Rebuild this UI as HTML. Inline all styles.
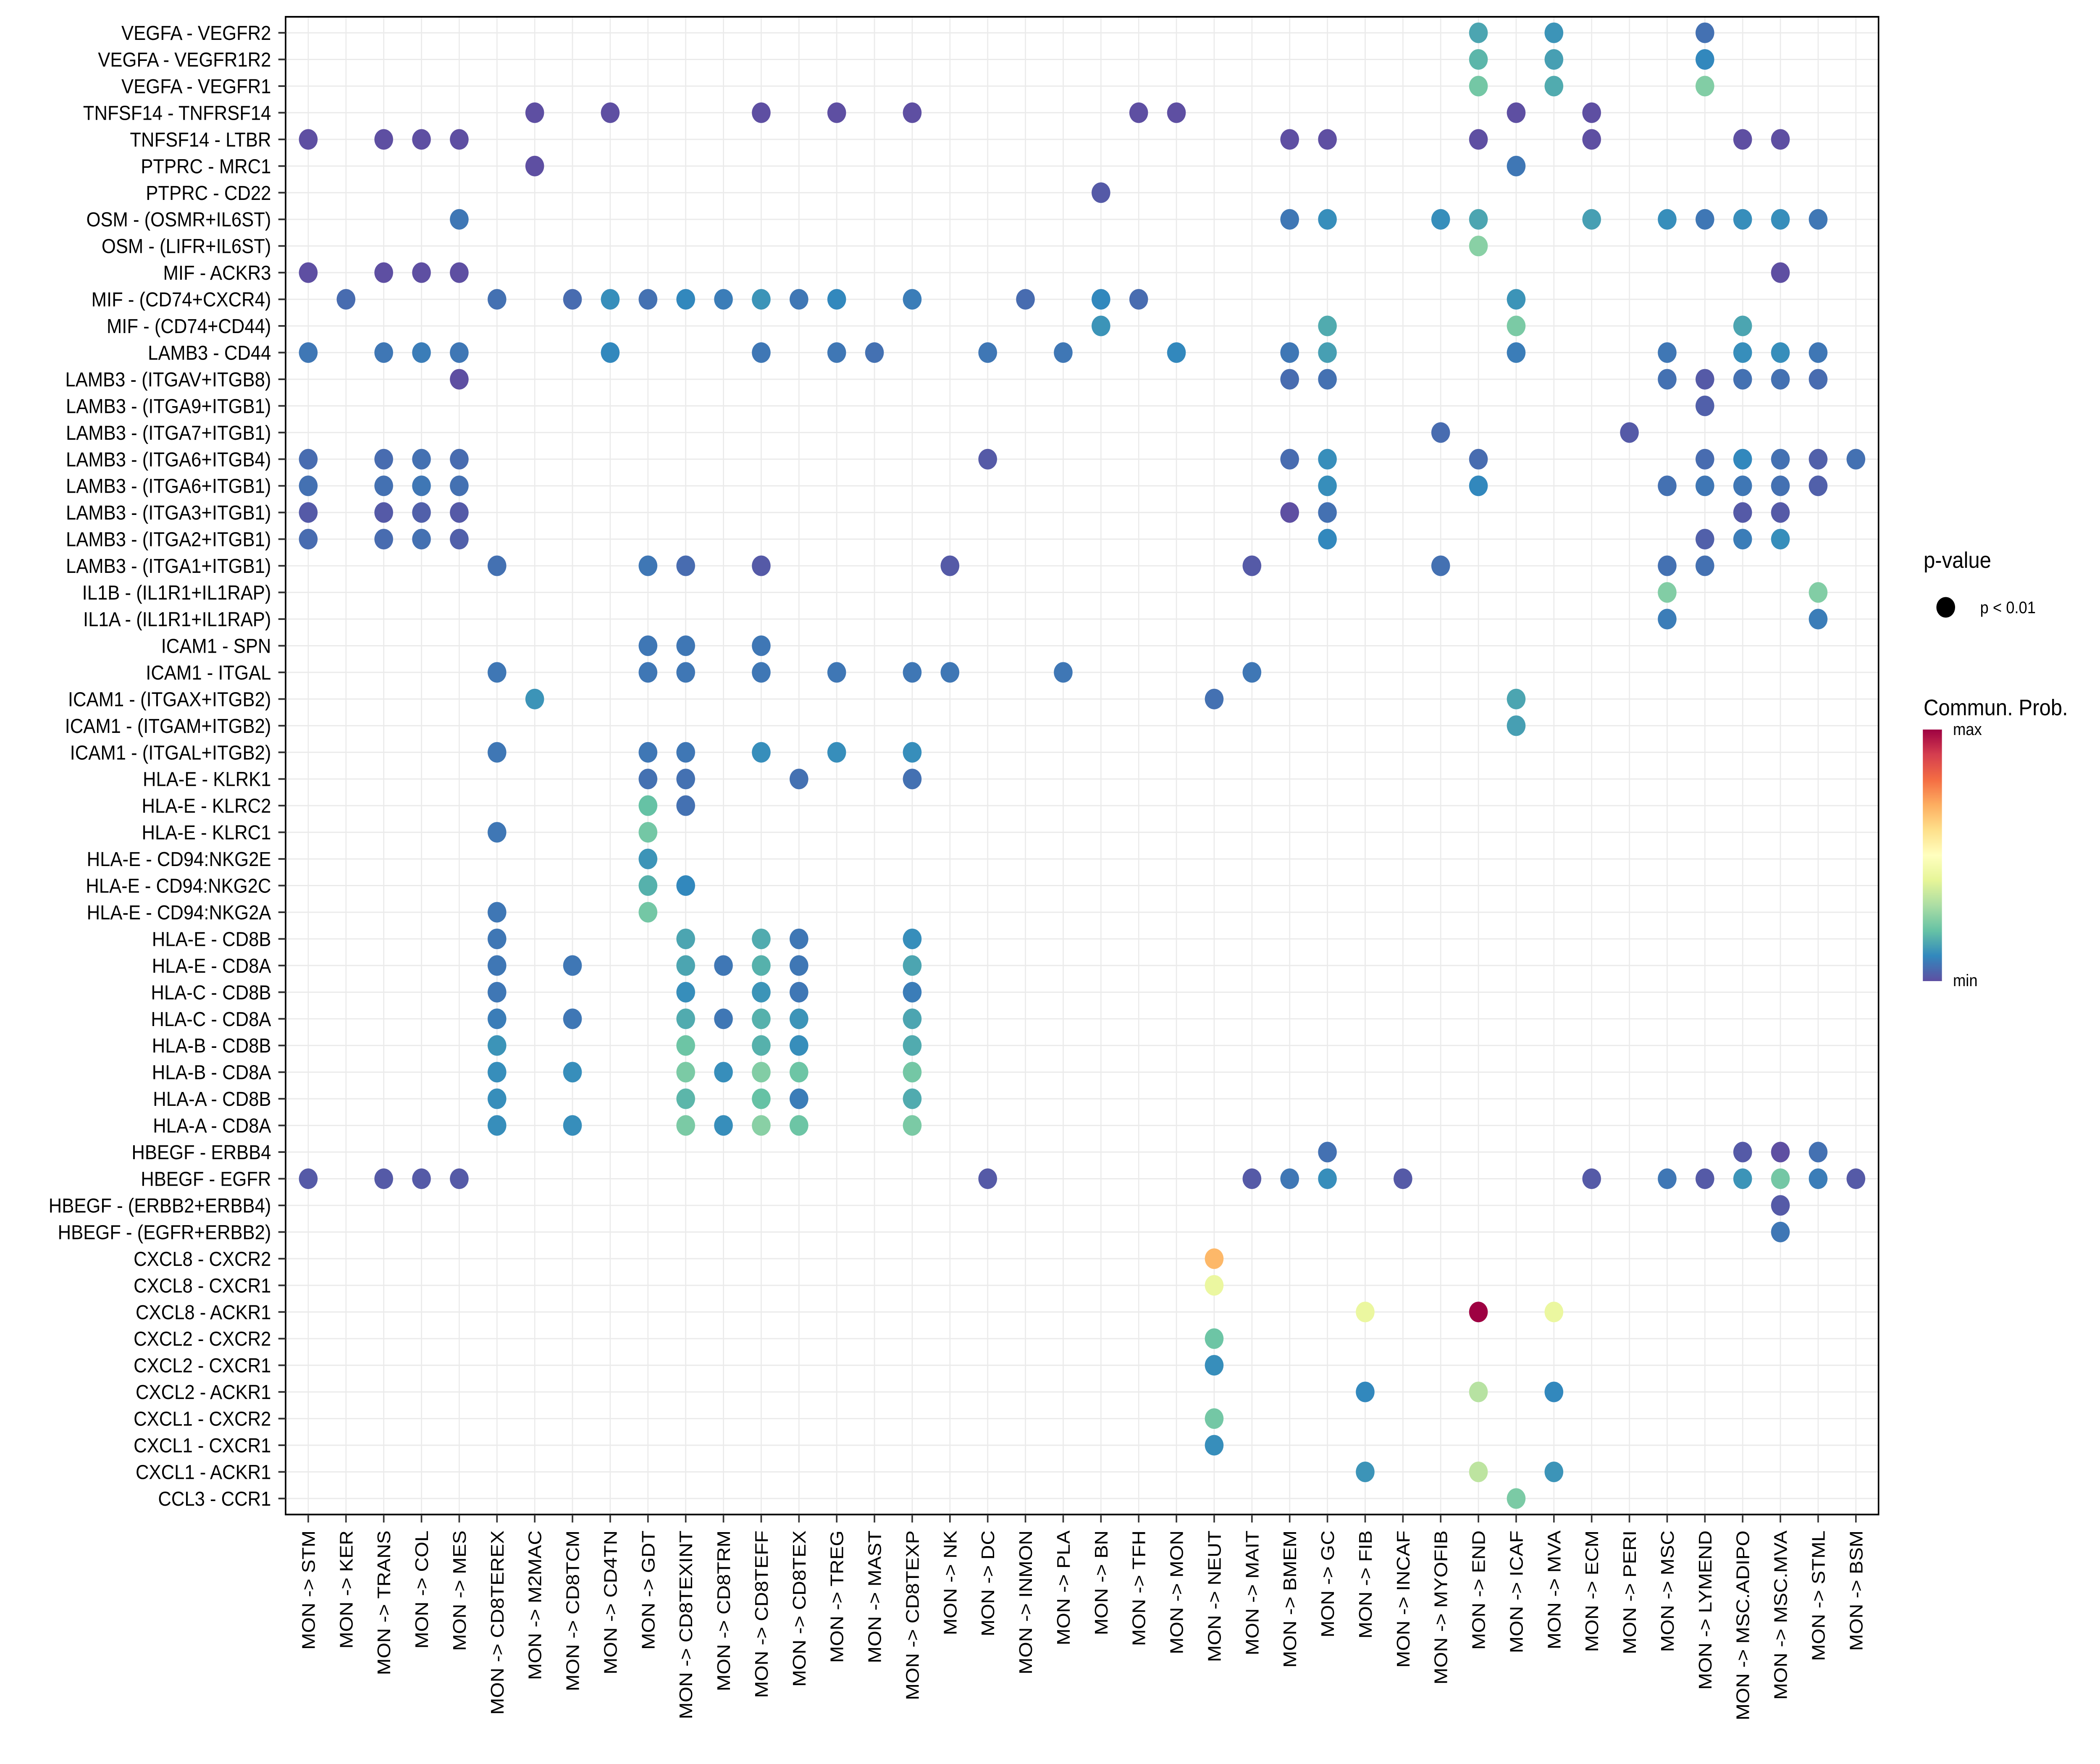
<!DOCTYPE html>
<html><head><meta charset="utf-8"><style>
html,body{margin:0;padding:0;background:#fff;width:100%;height:100%;overflow:hidden;}
#chart{display:block;position:fixed;left:0;top:0;width:100vw;height:100vh;}
svg text{font-family:"Liberation Sans",Arial,sans-serif;fill:#000;}
</style></head><body>
<svg id="chart" xmlns="http://www.w3.org/2000/svg" viewBox="0 0 5500 4200" preserveAspectRatio="none">
<rect x="0" y="0" width="5500" height="4200" fill="#fff"/>
<g id="grid"></g>
<g id="dots"></g>
<rect x="748" y="40" width="4172" height="3566" fill="none" stroke="#000" stroke-width="4"/>
<g id="yaxis"></g>
<g id="xaxis"></g>
<g>
<text x="5038" y="1352" font-size="54">p-value</text>
<circle cx="5096" cy="1446" r="24.5" fill="#000"/>
<text x="5186" y="1460" font-size="40">p &lt; 0.01</text>
</g>
<g>
<defs><linearGradient id="spec" x1="0" y1="1" x2="0" y2="0">
<stop offset="0" stop-color="#5E4FA2"/><stop offset="0.1" stop-color="#3288BD"/><stop offset="0.2" stop-color="#66C2A5"/><stop offset="0.3" stop-color="#ABDDA4"/><stop offset="0.4" stop-color="#E6F598"/><stop offset="0.5" stop-color="#FFFFBF"/><stop offset="0.6" stop-color="#FEE08B"/><stop offset="0.7" stop-color="#FDAE61"/><stop offset="0.8" stop-color="#F46D43"/><stop offset="0.9" stop-color="#D53E4F"/><stop offset="1" stop-color="#9E0142"/>
</linearGradient></defs>
<text x="5038" y="1703" font-size="54">Commun. Prob.</text>
<rect x="5036" y="1737" width="50" height="599" fill="url(#spec)"/>
<text x="5115" y="1750" font-size="40">max</text>
<text x="5115" y="2348" font-size="40">min</text>
</g>
</svg>
<script>
const rowLabels = ["VEGFA - VEGFR2","VEGFA - VEGFR1R2","VEGFA - VEGFR1","TNFSF14 - TNFRSF14","TNFSF14 - LTBR","PTPRC - MRC1","PTPRC - CD22","OSM - (OSMR+IL6ST)","OSM - (LIFR+IL6ST)","MIF - ACKR3","MIF - (CD74+CXCR4)","MIF - (CD74+CD44)","LAMB3 - CD44","LAMB3 - (ITGAV+ITGB8)","LAMB3 - (ITGA9+ITGB1)","LAMB3 - (ITGA7+ITGB1)","LAMB3 - (ITGA6+ITGB4)","LAMB3 - (ITGA6+ITGB1)","LAMB3 - (ITGA3+ITGB1)","LAMB3 - (ITGA2+ITGB1)","LAMB3 - (ITGA1+ITGB1)","IL1B - (IL1R1+IL1RAP)","IL1A - (IL1R1+IL1RAP)","ICAM1 - SPN","ICAM1 - ITGAL","ICAM1 - (ITGAX+ITGB2)","ICAM1 - (ITGAM+ITGB2)","ICAM1 - (ITGAL+ITGB2)","HLA-E - KLRK1","HLA-E - KLRC2","HLA-E - KLRC1","HLA-E - CD94:NKG2E","HLA-E - CD94:NKG2C","HLA-E - CD94:NKG2A","HLA-E - CD8B","HLA-E - CD8A","HLA-C - CD8B","HLA-C - CD8A","HLA-B - CD8B","HLA-B - CD8A","HLA-A - CD8B","HLA-A - CD8A","HBEGF - ERBB4","HBEGF - EGFR","HBEGF - (ERBB2+ERBB4)","HBEGF - (EGFR+ERBB2)","CXCL8 - CXCR2","CXCL8 - CXCR1","CXCL8 - ACKR1","CXCL2 - CXCR2","CXCL2 - CXCR1","CXCL2 - ACKR1","CXCL1 - CXCR2","CXCL1 - CXCR1","CXCL1 - ACKR1","CCL3 - CCR1"];
const colLabels = ["STM","KER","TRANS","COL","MES","CD8TEREX","M2MAC","CD8TCM","CD4TN","GDT","CD8TEXINT","CD8TRM","CD8TEFF","CD8TEX","TREG","MAST","CD8TEXP","NK","DC","INMON","PLA","BN","TFH","MON","NEUT","MAIT","BMEM","GC","FIB","INCAF","MYOFIB","END","ICAF","MVA","ECM","PERI","MSC","LYMEND","MSC.ADIPO","MSC.MVA","STML","BSM"];
// points: [row index, column index, scaled commun. prob (0=min,1=max)]
const points = [
[0,31,0.15],[0,33,0.12],[0,37,0.06],
[1,31,0.18],[1,33,0.14],[1,37,0.1],
[2,31,0.22],[2,33,0.16],[2,37,0.24],
[3,6,0],[3,8,0],[3,12,0],[3,14,0],[3,16,0],[3,22,0],[3,23,0],[3,32,0],[3,34,0],
[4,0,0],[4,2,0],[4,3,0],[4,4,0],[4,26,0],[4,27,0],[4,31,0],[4,34,0],[4,38,0],[4,39,0],
[5,6,0],[5,32,0.07],
[6,21,0.02],
[7,4,0.07],[7,26,0.07],[7,27,0.11],[7,30,0.11],[7,31,0.15],[7,34,0.14],[7,36,0.11],[7,37,0.07],[7,38,0.11],[7,39,0.11],[7,40,0.07],
[8,31,0.25],
[9,0,0],[9,2,0],[9,3,0],[9,4,0],[9,39,0],
[10,1,0.05],[10,5,0.06],[10,7,0.05],[10,8,0.11],[10,9,0.06],[10,10,0.1],[10,11,0.08],[10,12,0.12],[10,13,0.07],[10,14,0.1],[10,16,0.08],[10,19,0.05],[10,21,0.1],[10,22,0.05],[10,32,0.12],
[11,21,0.12],[11,27,0.16],[11,32,0.23],[11,38,0.15],
[12,0,0.07],[12,2,0.07],[12,3,0.08],[12,4,0.07],[12,8,0.1],[12,12,0.07],[12,14,0.07],[12,15,0.06],[12,18,0.07],[12,20,0.07],[12,23,0.1],[12,26,0.07],[12,27,0.14],[12,32,0.08],[12,36,0.07],[12,38,0.11],[12,39,0.11],[12,40,0.07],
[13,4,0],[13,26,0.05],[13,27,0.06],[13,36,0.06],[13,37,0.02],[13,38,0.06],[13,39,0.06],[13,40,0.05],
[14,37,0.03],
[15,30,0.05],[15,35,0.02],
[16,0,0.05],[16,2,0.05],[16,3,0.06],[16,4,0.05],[16,18,0.02],[16,26,0.05],[16,27,0.11],[16,31,0.05],[16,37,0.05],[16,38,0.1],[16,39,0.06],[16,40,0.03],[16,41,0.06],
[17,0,0.06],[17,2,0.06],[17,3,0.07],[17,4,0.06],[17,27,0.11],[17,31,0.1],[17,36,0.06],[17,37,0.07],[17,38,0.07],[17,39,0.06],[17,40,0.03],
[18,0,0.02],[18,2,0.02],[18,3,0.03],[18,4,0.02],[18,26,0],[18,27,0.06],[18,38,0.02],[18,39,0.02],
[19,0,0.05],[19,2,0.05],[19,3,0.06],[19,4,0.03],[19,27,0.1],[19,37,0.03],[19,38,0.08],[19,39,0.11],
[20,5,0.06],[20,9,0.07],[20,10,0.05],[20,12,0.02],[20,17,0.02],[20,25,0.02],[20,30,0.06],[20,36,0.06],[20,37,0.06],
[21,36,0.24],[21,40,0.24],
[22,36,0.08],[22,40,0.08],
[23,9,0.07],[23,10,0.07],[23,12,0.07],
[24,5,0.07],[24,9,0.07],[24,10,0.07],[24,12,0.07],[24,14,0.07],[24,16,0.07],[24,17,0.07],[24,20,0.07],[24,25,0.07],
[25,6,0.12],[25,24,0.06],[25,32,0.15],
[26,32,0.14],
[27,5,0.07],[27,9,0.07],[27,10,0.07],[27,12,0.11],[27,14,0.11],[27,16,0.11],
[28,9,0.06],[28,10,0.06],[28,13,0.06],[28,16,0.06],
[29,9,0.2],[29,10,0.06],
[30,5,0.07],[30,9,0.22],
[31,9,0.12],
[32,9,0.17],[32,10,0.1],
[33,5,0.07],[33,9,0.22],
[34,5,0.07],[34,10,0.15],[34,12,0.16],[34,13,0.07],[34,16,0.11],
[35,5,0.07],[35,7,0.07],[35,10,0.15],[35,11,0.07],[35,12,0.17],[35,13,0.07],[35,16,0.15],
[36,5,0.07],[36,10,0.11],[36,12,0.12],[36,13,0.07],[36,16,0.08],
[37,5,0.08],[37,7,0.07],[37,10,0.16],[37,11,0.07],[37,12,0.17],[37,13,0.12],[37,16,0.15],
[38,5,0.12],[38,10,0.21],[38,12,0.17],[38,13,0.11],[38,16,0.16],
[39,5,0.11],[39,7,0.11],[39,10,0.23],[39,11,0.11],[39,12,0.24],[39,13,0.21],[39,16,0.22],
[40,5,0.11],[40,10,0.18],[40,12,0.2],[40,13,0.08],[40,16,0.16],
[41,5,0.11],[41,7,0.11],[41,10,0.23],[41,11,0.11],[41,12,0.25],[41,13,0.21],[41,16,0.23],
[42,27,0.06],[42,38,0.02],[42,39,0],[42,40,0.06],
[43,0,0.02],[43,2,0.02],[43,3,0.02],[43,4,0.02],[43,18,0.02],[43,25,0.02],[43,26,0.07],[43,27,0.11],[43,29,0.02],[43,34,0.02],[43,36,0.07],[43,37,0.02],[43,38,0.12],[43,39,0.22],[43,40,0.08],[43,41,0.02],
[44,39,0.02],
[45,39,0.07],
[46,24,0.68],
[47,24,0.42],
[48,28,0.42],[48,31,1.0],[48,33,0.42],
[49,24,0.21],
[50,24,0.11],
[51,28,0.1],[51,31,0.32],[51,33,0.1],
[52,24,0.22],
[53,24,0.11],
[54,28,0.12],[54,31,0.33],[54,33,0.12],
[55,32,0.23]
];
const spectralStops = ["#5E4FA2","#3288BD","#66C2A5","#ABDDA4","#E6F598","#FFFFBF","#FEE08B","#FDAE61","#F46D43","#D53E4F","#9E0142"];

const NS = "http://www.w3.org/2000/svg";
const PL = 748, PR = 4920, PT = 40, PB = 3606;
const colStep = (PR - PL) / (colLabels.length - 1 + 1.2);
const rowStep = (PB - PT) / (rowLabels.length - 1 + 1.2);
function xScale(j){ return PL + (0.6 + j) * colStep; }
function yScale(i){ return PT + (0.6 + i) * rowStep; }
function hex(c){ return [parseInt(c.slice(1,3),16),parseInt(c.slice(3,5),16),parseInt(c.slice(5,7),16)]; }
function colorScale(v){
  v = Math.max(0, Math.min(1, v));
  const p = v * (spectralStops.length - 1);
  const k = Math.min(Math.floor(p), spectralStops.length - 2);
  const t = p - k;
  const a = hex(spectralStops[k]), b = hex(spectralStops[k+1]);
  return "rgb(" + a.map((x,n)=>Math.round(x + (b[n]-x)*t)).join(",") + ")";
}
function mk(tag, attrs, parent){
  const e = document.createElementNS(NS, tag);
  for (const k in attrs) e.setAttribute(k, attrs[k]);
  parent.appendChild(e);
  return e;
}
const grid = document.getElementById("grid");
const yaxis = document.getElementById("yaxis");
const xaxis = document.getElementById("xaxis");
const dots = document.getElementById("dots");

rowLabels.forEach((lab, i) => {
  const y = yScale(i);
  const g = mk("line", {x1: PL, x2: PR, y1: y, y2: y, stroke: "#ebebeb", "stroke-width": 3}, grid);
  
  
  const t = mk("line", {x1: PL - 19, x2: PL, y1: y, y2: y, stroke: "#333", "stroke-width": 4}, yaxis);
  
  
  const tx = mk("text", {x: PL - 38, y: y + 17, "font-size": 48, "text-anchor": "end"}, yaxis);
  tx.textContent = lab;
  
  
});
colLabels.forEach((lab, j) => {
  const x = xScale(j);
  const g = mk("line", {x1: x, x2: x, y1: PT, y2: PB, stroke: "#ebebeb", "stroke-width": 3}, grid);
  
  
  const t = mk("line", {x1: x, x2: x, y1: PB, y2: PB + 19, stroke: "#333", "stroke-width": 4}, xaxis);
  
  
  const tx = mk("text", {x: 0, y: 0, "font-size": 48, "text-anchor": "end", transform: "translate(" + (x + 17) + "," + (PB + 38) + ") rotate(-90)"}, xaxis);
  tx.textContent = "MON -> " + lab;
  
  
});
points.forEach(p => {
  const c = mk("circle", {cx: xScale(p[1]), cy: yScale(p[0]), r: 24.5, fill: colorScale(p[2])}, dots);
  
  
});
</script>
</body></html>
